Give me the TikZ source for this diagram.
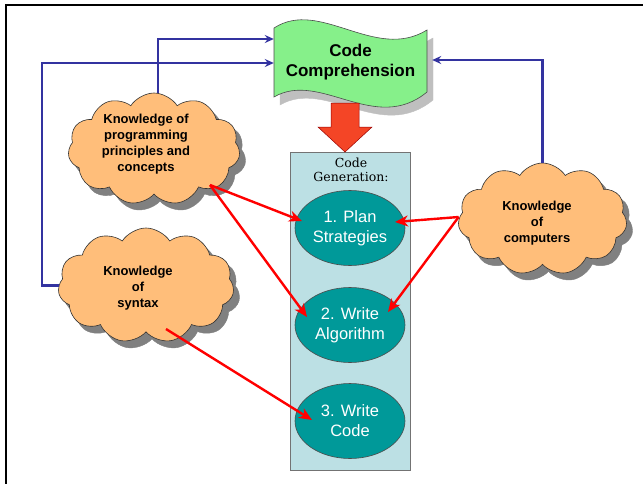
\documentclass[tikz,border=0pt]{standalone}
\usepackage{fontspec}
\setmainfont{Liberation Sans}
\newfontfamily\genfont{DejaVu Serif}
\usetikzlibrary{shapes.symbols,shapes.geometric,arrows.meta,calc}

\definecolor{cloudfill}{RGB}{255,190,122}
\definecolor{wavefill}{RGB}{134,240,138}
\definecolor{tealfill}{RGB}{0,153,153}
\definecolor{genfill}{RGB}{188,224,228}
\definecolor{blueline}{RGB}{51,51,160}
\definecolor{blockred}{RGB}{244,69,38}

\tikzset{
  cloudbase/.style={cloud, cloud puffs=11, cloud puff arc=115, cloud ignores aspect,
    inner sep=0pt},
  knowcloud/.style={cloudbase, draw=black!80, line width=0.6pt, fill=cloudfill},
  cloudshade/.style={cloudbase, draw=black!50, fill=black!50},
  cloudtext/.style={font=\bfseries\fontsize{13}{16}\selectfont, align=center, inner sep=0pt},
  stepoval/.style={ellipse, draw=black!70, line width=0.6pt, fill=tealfill,
    minimum width=110pt, minimum height=75pt, inner sep=0pt, text=white,
    align=center, font=\fontsize{16.5}{20}\selectfont},
  bluelink/.style={draw=blueline, line width=2.2pt,
    -{Stealth[length=9pt, width=8pt, inset=3pt]}},
  redlink/.style={draw=red, line width=2.4pt,
    -{Stealth[length=13pt, width=11pt, inset=4pt]}},
}

\begin{document}
\begin{tikzpicture}[x=1pt, y=-1pt]
  \useasboundingbox (0,0) rectangle (643,483);

  % outer frame (top and left edges)
  \draw[line width=2.6pt, line cap=rect] (643,5) -- (6,5) -- (6,483);

  % Code Generation panel
  \node[draw=black!55, line width=0.8pt, fill=genfill, minimum width=120pt,
        minimum height=318pt, inner sep=0pt] (gen) at (350,311) {};
  \node[font=\genfont\fontsize{12.5}{14}\selectfont, align=center, inner sep=0pt]
        (gentitle) at (351,170) {Code\\Generation:};

  % the three generation steps
  \node[stepoval] (plan) at (350,228) {1. Plan\\Strategies};
  \node[stepoval] (algo) at (350,325) {2. Write\\Algorithm};
  \node[stepoval] (code) at (350,421) {3. Write\\Code};

  % Code Comprehension banner with its shadow
  \filldraw[fill=black!25, draw=black!25]
    (280,36) .. controls (326,6) and (381,70) .. (433,38)
    -- (433,100) .. controls (381,143) and (326,78) .. (280,105) -- cycle;
  \filldraw[fill=wavefill, draw=black!70, line width=0.6pt]
    (274,28) .. controls (320,-2) and (375,62) .. (427,30)
    -- (427,92) .. controls (375,135) and (320,70) .. (274,97) -- cycle;
  \node[font=\bfseries\fontsize{17}{20}\selectfont, align=center, inner sep=0pt,
        minimum width=153pt, minimum height=60pt] (cc) at (350.5,62) {Code\\Comprehension};

  % block arrow from comprehension into generation
  \filldraw[fill=blockred, draw=red!60!black, line width=0.5pt]
    (331,103) -- (359,103) -- (359,127) -- (372,127) -- (345,152)
    -- (318,127) -- (331,127) -- cycle;

  % knowledge clouds, each over a shadow
  \node[cloudshade, minimum width=172pt, minimum height=112pt] (progshade) at (160,156) {};
  \node[knowcloud, minimum width=172pt, minimum height=112pt] (prog) at (154,149) {};
  \node[cloudtext] (progtxt) at (146,144) {Knowledge of\\programming\\principles and\\concepts};

  \node[cloudshade, minimum width=176pt, minimum height=115pt] (synshade) at (152,292.5) {};
  \node[knowcloud, minimum width=176pt, minimum height=115pt] (syn) at (146,285.5) {};
  \node[cloudtext] (syntxt) at (138,288) {Knowledge\\of\\syntax};

  \node[cloudshade, minimum width=169pt, minimum height=112pt] (compshade) at (548.5,226) {};
  \node[knowcloud, minimum width=169pt, minimum height=112pt] (comp) at (542.5,219) {};
  \node[cloudtext] (comptxt) at (537,223) {Knowledge\\of\\computers};

  % knowledge feeding comprehension
  \draw[bluelink] ($(prog.north)+(4,0)$) |- ($(cc.west)+(0,-23)$);
  \draw[bluelink] (syn.west) -- ($(syn.west)+(-17,0)$) |- ($(cc.west)+(0,1)$);
  \draw[bluelink] (comp.north) |- ($(cc.east)+(5,-2)$);

  % knowledge feeding generation steps
  \coordinate (progout) at ($(prog.center)+(56,36)$);
  \coordinate (compout) at ($(comp.west)+(0,-2)$);
  \coordinate (synout) at ($(syn.center)+(20,43.5)$);
  \draw[redlink] (progout) -- ($(plan.center)+(-48,-7)$);
  \draw[redlink] (progout) -- ($(algo.center)+(-43,-8)$);
  \draw[redlink] (compout) -- ($(plan.center)+(45,-6)$);
  \draw[redlink] (compout) -- ($(algo.center)+(38,-13)$);
  \draw[redlink] (synout) -- ($(code.center)+(-38,-1)$);
\end{tikzpicture}
\end{document}
